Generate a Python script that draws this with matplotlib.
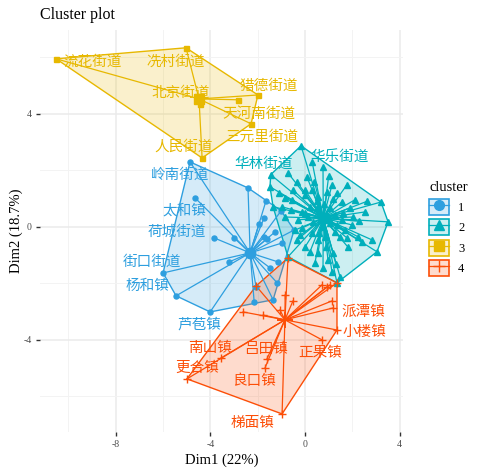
import matplotlib.pyplot as plt
from matplotlib.lines import Line2D
from matplotlib.patches import Patch, Polygon
from matplotlib.colors import to_rgba
import numpy as np

plt.rcParams['font.family'] = ['Liberation Serif', 'Noto Sans CJK SC', 'DejaVu Sans']
plt.rcParams['axes.unicode_minus'] = False

# cluster 1 (blue)
c1_x = [-4.86, -2.41, -1.65, -4.65, -1.01, -1.73, -1.94, -3.84, -3.00, -1.27, -1.61, -0.46,
        -0.97, -3.21, -6.00, -5.45, -4.01, -2.07, -1.35, -2.15, -1.18, -1.14, -1.48, -1.73]
c1_y = [2.30, 1.38, 0.92, 1.03, 0.57, 0.32, 0.11, -0.39, -0.39, -0.18, -0.42, -0.11,
        -0.57, -1.24, -1.63, -2.44, -3.01, -2.12, -2.58, -2.65, -1.98, -1.24, -1.45, -0.35]
# cluster 2 (teal)
c2_x = [-0.17, -1.48, -0.72, 1.35, 3.04, 3.51, 3.21, -0.72, -0.34, 0.08, 0.76, 1.14, 1.77,
        2.11, 2.53, 2.83, 2.41, 1.77, 1.48, 1.18, 0.97, 0.55, 0.42, 0.00, -0.34, -0.42,
        -0.84, -0.97, -0.84, -0.55, 0.00, 0.30, 0.55, 0.93, 1.35, 1.56, 1.90, 2.03, 1.99,
        1.69, 1.35, 1.27, 0.84, 0.55, 0.30, -0.13, -0.30, -0.13, 0.21, 0.51, 1.06, 1.27,
        1.56, 0.34, 1.06, 0.72, 0.63, 0.93, 0.13, 1.14, 0.76, 1.48, -1.35, 0.00, 2.24,
        0.40, 1.00, -0.50, 0.20, 0.90, 1.60, 2.30, -0.60, 0.50, 1.20, 0.00, 0.80, 1.80,
        0.60, 1.00, -0.20, 2.60, 0.30, 1.30, -1.10, -1.45]
c2_y = [2.87, 1.42, -1.06, -1.98, -0.88, 0.18, 0.88, 1.91, 1.59, 1.77, 2.12, 1.49, 1.49,
        0.96, 0.53, -0.46, -0.53, -0.39, -0.35, -0.92, -1.17, -0.92, -1.27, -0.71, -0.46,
        -0.11, 0.35, 0.71, 1.03, 0.96, 1.13, 1.31, 1.06, 1.24, 1.20, 0.88, 0.67, 0.35,
        0.07, -0.11, 0.07, -0.18, -0.35, -0.46, -0.21, -0.04, 0.25, 0.53, 0.71, 0.67,
        0.67, 0.42, 0.25, 0.18, 0.14, 0.00, 0.42, 0.42, 0.35, -1.59, -1.45, -1.77, 0.71,
        1.31, -0.35, 1.60, 1.80, 1.30, -0.90, -0.70, 0.50, 0.20, 0.60, 0.90, 1.00, 0.50,
        0.80, -0.70, -0.20, 0.30, -0.30, 0.90, 2.30, -1.30, 1.20, 1.85]
# cluster 3 (yellow)
c3_x = [-10.52, -5.03, -4.56, -1.99, -2.83, -2.28, -4.35, -4.43]
c3_y = [5.95, 6.34, 4.64, 4.67, 4.50, 3.65, 2.44, 4.35]
# cluster 4 (red)
c4_x = [-0.97, -4.99, -3.55, -1.61, -1.69, 0.72, 1.35, 1.18, 1.14, -0.72, 1.35, 0.72, 0.93,
        1.06, -0.84, -0.51, -2.62, -1.77, -1.06, -2.07]
c4_y = [-6.62, -5.38, -4.64, -4.67, -4.99, -4.00, -3.65, -2.87, -2.62, -1.10, -1.98, -2.05,
        -2.12, -2.05, -2.41, -2.62, -3.01, -3.12, -2.94, -2.09]

centers_x = [-2.32, 0.77, -4.48, -0.85]
centers_y = [-0.92, 0.31, 4.53, -3.29]

clusters = ['1', '2', '3', '4']
colors = ['#2E9FDF', '#00AFBB', '#E7B800', '#FC4E07']
markers = ['o', '^', 's', '+']

# shown labels: text, x, y, cluster
labels = [
    ('流花街道', -8.98, 5.85, 2), ('冼村街道', -5.48, 5.84, 2), ('北京街道', -5.26, 4.73, 2),
    ('猎德街道', -1.53, 4.99, 2), ('天河南街道', -1.93, 4.02, 2), ('三元里街道', -1.84, 3.20, 2),
    ('人民街道', -5.12, 2.84, 2),
    ('岭南街道', -5.29, 1.84, 0), ('太和镇', -5.10, 0.58, 0), ('荷城街道', -5.41, -0.17, 0),
    ('街口街道', -6.46, -1.23, 0), ('杨和镇', -6.67, -2.08, 0), ('芦苞镇', -4.45, -3.47, 0),
    ('华林街道', -1.74, 2.23, 1), ('华乐街道', 1.44, 2.47, 1),
    ('派潭镇', 2.45, -3.02, 3), ('小楼镇', 2.53, -3.71, 3), ('正果镇', 0.66, -4.47, 3),
    ('南山镇', -4.03, -4.29, 3), ('吕田镇', -1.66, -4.32, 3), ('更合镇', -4.56, -5.00, 3),
    ('良口镇', -2.14, -5.45, 3), ('梯面镇', -2.22, -6.93, 3),
]


def convex_hull(pts):
    pts = sorted(set(pts))
    def cross(o, a, b):
        return (a[0] - o[0]) * (b[1] - o[1]) - (a[1] - o[1]) * (b[0] - o[0])
    lower, upper = [], []
    for p in pts:
        while len(lower) >= 2 and cross(lower[-2], lower[-1], p) <= 0:
            lower.pop()
        lower.append(p)
    for p in reversed(pts):
        while len(upper) >= 2 and cross(upper[-2], upper[-1], p) <= 0:
            upper.pop()
        upper.append(p)
    return lower[:-1] + upper[:-1]


fig = plt.figure(figsize=(4.8, 4.73), dpi=100)
ax = fig.add_axes([40 / 480, 1 - 432 / 473, 363 / 480, 402 / 473])

data = [(c1_x, c1_y), (c2_x, c2_y), (c3_x, c3_y), (c4_x, c4_y)]
for i, (xs, ys) in enumerate(data):
    col = colors[i]
    hull = convex_hull(list(zip(xs, ys)))
    ax.add_patch(Polygon(hull, closed=True, facecolor=to_rgba(col, 0.2),
                         edgecolor=col, lw=1.0, zorder=2))
    cx, cy = centers_x[i], centers_y[i]
    for x, y in zip(xs, ys):
        ax.plot([cx, x], [cy, y], color=col, lw=0.9, zorder=3)
    if markers[i] == '+':
        ax.plot(xs, ys, '+', color=col, ms=6, mew=1.0, ls='none', zorder=4)
        ax.plot([cx], [cy], '+', color=col, ms=11, mew=1.4, zorder=5)
    else:
        ms = 4.2 if markers[i] == '^' else 3.6
        ax.plot(xs, ys, markers[i], color=col, ms=ms, ls='none', zorder=4)
        ax.plot([cx], [cy], markers[i], color=col, ms=7.5, zorder=5)

for txt, x, y, k in labels:
    ax.text(x, y, txt, color=colors[k], fontsize=10.5, ha='center', va='center',
            family=['Noto Sans CJK SC', 'DejaVu Sans'], zorder=6)

ax.set_xlim(-11.2, 4.14)
ax.set_ylim(-7.26, 6.97)
ax.set_xticks([-8, -4, 0, 4])
ax.set_yticks([-4, 0, 4])
ax.set_xticks([-10, -6, -2, 2], minor=True)
ax.set_yticks([-6, -2, 2, 6], minor=True)
ax.grid(True, which='major', color='#EBEBEB', lw=1.1, zorder=0)
ax.grid(True, which='minor', color='#F3F3F3', lw=0.7, zorder=0)
ax.set_axisbelow(True)
for s in ax.spines.values():
    s.set_visible(False)
ax.tick_params(which='major', length=3, width=1, color='#333333',
               labelsize=7, labelcolor='#4D4D4D', pad=3)
ax.tick_params(which='minor', length=0)

ax.set_xlabel('Dim1 (22%)', fontsize=10.5, labelpad=3)
ax.set_ylabel('Dim2 (18.7%)', fontsize=10.5, labelpad=0)
ax.set_title('Cluster plot', fontsize=11.5, loc='left', pad=8)

handles = []
for col, m in zip(colors, markers):
    p = Patch(facecolor=to_rgba(col, 0.2), edgecolor=col, lw=1.2)
    if m == '+':
        ln = Line2D([], [], color=col, marker='+', ms=9, mew=1.0, lw=0.9)
    else:
        ln = Line2D([], [], color=col, marker=m, ms=7, lw=0.9)
    handles.append((p, ln))
leg = fig.legend(handles, clusters, title='cluster', loc='upper left',
                 bbox_to_anchor=(418 / 480, 1 - 170 / 473), frameon=False,
                 handlelength=1.6, handleheight=1.6, handletextpad=0.7,
                 labelspacing=0.35, fontsize=9, title_fontsize=10.5)
leg._legend_box.align = 'left'

fig.savefig('out.png', dpi=100)
